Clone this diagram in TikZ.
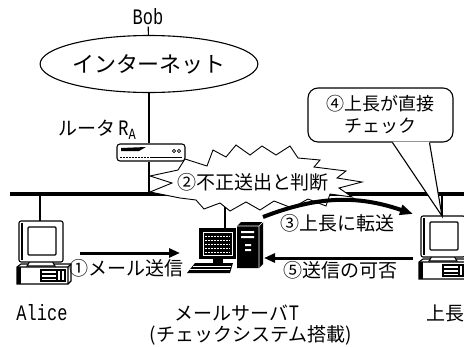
\documentclass[tikz,border=0pt]{standalone}
\usepackage{graphicx}
\usepackage{fontspec}
\setmainfont{Noto Sans CJK JP}
\setmonofont{Liberation Mono}
\usetikzlibrary{arrows.meta,shapes.geometric}

% tall narrow type for host names
\newcommand{\hostname}[1]{\scalebox{1}[1.3]{\ttfamily\fontsize{17}{20}\selectfont #1}}

\tikzset{
  % desktop PC, origin at the top left of the monitor
  pc/.pic={
    \draw[fill=white] (-1,47) -- (3,44) -- (53,44) -- (53,61) -- (50,64) -- (-1,64) -- cycle;
    \draw (-1,47) -- (50,47) -- (53,44) (50,47) -- (50,64);
    \fill (-1,47) rectangle (3,64);
    \draw (23,50) rectangle (47,61);
    \draw (23,54) -- (39,54) (23,58) -- (39,58) (39,50) -- (39,61) (43,50) -- (43,61);
    \draw[fill=white] (12,41) -- (9,46) -- (37,46) -- (34,41);
    \draw[fill=white,rounded corners=2] (1,1) rectangle (45,42);
    \draw (4,3) -- (4,40);
    \draw[rounded corners=1] (10,7) rectangle (38,35);
    \coordinate (-top) at (22,1);
  },
  lan/.style={line width=3.5pt},
  msg/.style={line width=3pt,-{Triangle[length=11pt,width=9pt]}},
  lbl/.style={font=\fontsize{19}{22}\selectfont},
}

\begin{document}
\begin{tikzpicture}[x=1pt,y=-1pt,line width=1.1pt,inner sep=1pt]
\useasboundingbox (0,0) rectangle (464,346);

% internet
\node (bob) at (148,17) {\hostname{Bob}};
\node[draw,ellipse,minimum width=205,minimum height=57,inner sep=0,
      font=\fontsize{22}{26}\selectfont] (inet) at (149,64) {インターネット};
\draw (bob) -- (inet);

% router
\node[lbl] (rtlabel) at (97,130) {ルータ\,\hostname{R}\raisebox{-4pt}{\hostname{\fontsize{12}{14}\selectfont A}}};
\node[draw,rounded corners=3,minimum width=68,minimum height=17,inner sep=0] (router) at (151,152.5) {};
\fill (121,148) -- (146,147) -- (139,151) -- (121,151) -- cycle;
\draw[line width=0.7pt] (174,151) circle (1.6) (179,151) circle (1.6);
\draw[line width=0.8pt,dash pattern=on 2pt off 1pt] (120,157) -- (150,157);
\draw[line width=0.8pt] (150,157) -- (182,157);
\draw (inet.south) -- (inet.south |- router.north);

% LAN
\coordinate (busL) at (10,194);
\coordinate (busR) at (464,194);
\draw[lan] (busL) -- (busR);
\coordinate (srvtop) at (225,228);
\draw (inet.south |- router.south) -- (inet.south |- busL);

% hosts
\pic (alice) at (18,220) {pc};
\pic (boss) at (420,215) {pc};
\draw (alice-top) -- (alice-top |- busL);
\draw (boss-top) -- (boss-top |- busL);
\draw (srvtop) -- (srvtop |- busL);

% mail server T
\fill (199,228) rectangle (236,259);
\draw[white,line width=0.6pt] (203,232) rectangle (232,255);
\foreach \y in {236,240,...,252}
  \draw[white,line width=0.4pt,dash pattern=on 2pt off 1pt] (205,\y) -- (230,\y);
\fill (213,259) rectangle (223,263);
\fill (195,263) -- (233,263) -- (230,273) -- (187,273) -- cycle;
\draw[white,line width=0.5pt] (193,266) -- (231,266) (190,269.5) -- (230,269.5);
\fill (237,226) -- (241,222) -- (263,222) -- (263,264) -- (259,268) -- (237,268) -- cycle;
\draw[white,line width=0.6pt] (237,226) -- (259,226) -- (263,222) (259,226) -- (259,268);
\fill[white] (241,231) rectangle (254,233) (241,236) rectangle (254,238)
             (245,244) rectangle (251,246) (245,249) rectangle (251,251);

% detection burst
\draw[fill=white,line width=0.9pt] (185,159) -- (207,166) -- (213,150) -- (226,157)
  -- (236,145) -- (250,155) -- (262,146) -- (276,155) -- (290,146) -- (298,158)
  -- (320,160) -- (314,167) -- (346,171) -- (337,178) -- (362,182) -- (339,188)
  -- (352,197) -- (330,194) -- (326,206) -- (308,199) -- (292,208) -- (274,201)
  -- (260,210) -- (246,202) -- (230,211) -- (220,203) -- (204,209) -- (196,200)
  -- (180,198) -- (150,192) -- (172,183) -- (150,176) -- (178,170) -- cycle;
\node[lbl] (fraud) at (253,182) {②不正送出と判断};

% callout
\node[draw,rounded corners=10,minimum width=145,minimum height=54,align=center,
      lbl,font=\fontsize{18}{22}\selectfont] (note) at (380.5,115) {④上長が直接\\チェック};
\fill[white] ([xshift=12,yshift=1]note.south) -- (boss-top) -- ([xshift=49,yshift=1]note.south) -- cycle;
\draw ([xshift=12]note.south) -- (boss-top) -- ([xshift=49]note.south);

% messages
\coordinate (mailA) at (80,253);
\coordinate (mailB) at (180,253);
\coordinate (okA) at (413,258);
\coordinate (okB) at (264,258);
\coordinate (fwdA) at (263,217);
\coordinate (fwdB) at (413,214);
\draw[msg] (mailA) -- (mailB);
\draw[msg] (okA) -- (okB);
\draw[line width=4pt,-{Triangle[length=13pt,width=10pt]}] (fwdA) to[bend left=20] (fwdB);
\node[lbl] (send) at (127,268) {①メール送信};
\node[lbl] (fwd) at (337,223) {③上長に転送};
\node[lbl] (reply) at (340,270) {⑤送信の可否};

% names
\node (nalice) at (42,313) {\hostname{Alice}};
\node[lbl] (nsrv) at (237,313) {メールサーバ\hostname{T}};
\node[lbl] (nsys) at (251,335) {(チェックシステム搭載)};
\node[lbl] (nboss) at (445,313) {上長};
\end{tikzpicture}
\end{document}
